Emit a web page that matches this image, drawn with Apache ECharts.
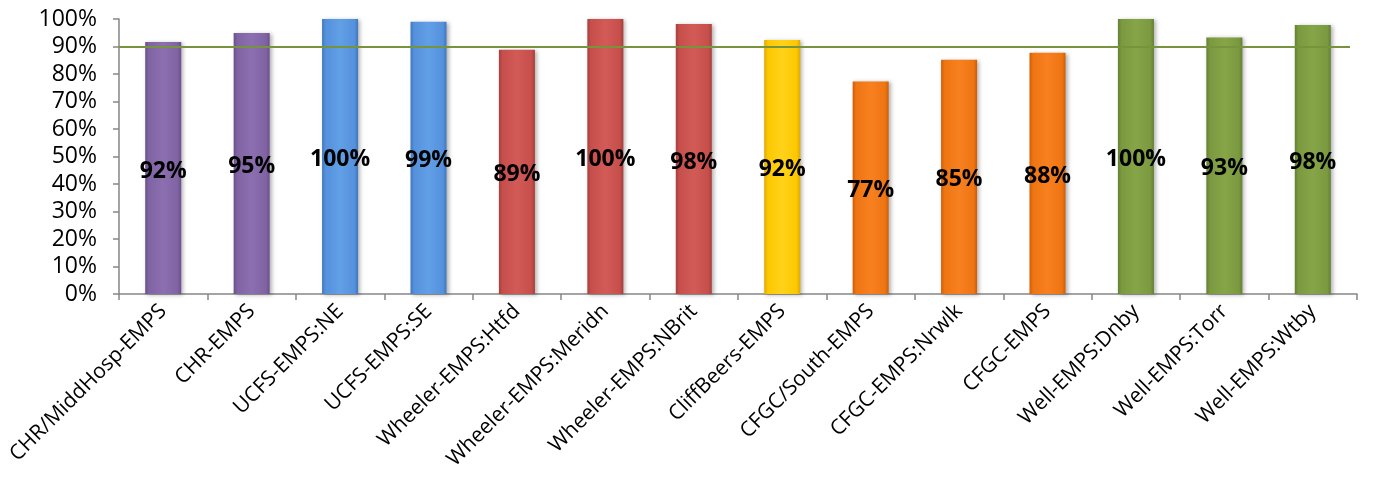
<!DOCTYPE html>
<html><head><meta charset="utf-8">
<script src="https://cdn.jsdelivr.net/npm/echarts@6/dist/echarts.min.js"></script>
<style>html,body{margin:0;padding:0;background:#fff}#c{width:1381px;height:479px}</style>
</head><body><div id="c"></div>
<script>
const categories = ["CHR/MiddHosp-EMPS","CHR-EMPS","UCFS-EMPS:NE","UCFS-EMPS:SE","Wheeler-EMPS:Htfd","Wheeler-EMPS:Meridn","Wheeler-EMPS:NBrit","CliffBeers-EMPS","CFGC/South-EMPS","CFGC-EMPS:Nrwlk","CFGC-EMPS","Well-EMPS:Dnby","Well-EMPS:Torr","Well-EMPS:Wtby"];
const values = [91.6, 94.9, 100, 99.0, 88.8, 100, 98.2, 92.4, 77.3, 85.2, 87.7, 100, 93.3, 97.8];
const groups = ["CHR","CHR","UCFS","UCFS","Wheeler","Wheeler","Wheeler","CliffBeers","CFGC","CFGC","CFGC","Well","Well","Well"];
const target = 90;

const groupColors = {
  CHR: ["#6a4f8c","#8c6fb0","#7f63a3"],
  UCFS: ["#3f77bf","#619fe6","#5591dc"],
  Wheeler: ["#a83e3b","#d25a57","#c64f4c"],
  CliffBeers: ["#e0a800","#ffd21a","#fcc800"],
  CFGC: ["#cf5d07","#f88020","#ef7512"],
  Well: ["#647f33","#86a548","#7b9a40"]
};
function grad(c){
  return new echarts.graphic.LinearGradient(0,0,1,0,[
    {offset:0,color:c[0]},{offset:0.1,color:c[2]},{offset:0.5,color:c[1]},{offset:0.9,color:c[2]},{offset:1,color:c[0]}]);
}
const data = values.map((v,i)=>({value:v,itemStyle:{color:grad(groupColors[groups[i]])}}));

const chart = echarts.init(document.getElementById('c'));
chart.setOption({
  animation:false,
  grid:{left:119,right:24,top:19,bottom:185,containLabel:false},
  xAxis:{type:'category',data:categories,
    axisLine:{lineStyle:{color:'#868686',width:1.5}},
    axisTick:{show:true,length:6,lineStyle:{color:'#868686',width:1.5}},
    axisLabel:{rotate:45,interval:0,fontFamily:'Open Sans',fontSize:21,color:'#000',margin:14}},
  yAxis:{type:'value',min:0,max:100,interval:10,
    axisLine:{show:true,lineStyle:{color:'#868686',width:1.5}},
    axisTick:{show:true,length:6,lineStyle:{color:'#868686',width:1.5}},
    splitLine:{show:false},
    axisLabel:{formatter:v=>v+'%',fontFamily:'Open Sans',fontSize:23,color:'#000',margin:22}},
  series:[{type:'bar',data:data,barWidth:36,
    itemStyle:{shadowBlur:4,shadowColor:'rgba(0,0,0,0.3)',shadowOffsetX:2,shadowOffsetY:1},
    label:{show:true,position:'inside',offset:[0,3],formatter:p=>Math.round(p.value)+'%',
      fontFamily:'Open Sans',fontWeight:'bold',fontSize:23,color:'#000'},
    markLine:{silent:true,symbol:'none',label:{show:false},
      lineStyle:{color:'#77933c',width:2,type:'solid'},
      data:[[{x:119,yAxis:target},{x:1350,yAxis:target}]]}
  }]
});
</script></body></html>
